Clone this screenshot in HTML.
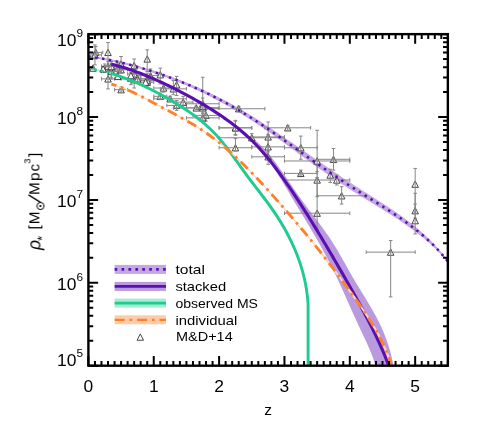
<!DOCTYPE html>
<html><head><meta charset="utf-8"><title>chart</title>
<style>html,body{margin:0;padding:0;background:#fff;overflow:hidden}svg{display:block;}</style>
</head><body>
<svg width="491" height="436" viewBox="0 0 491 436">
<rect width="491" height="436" fill="#ffffff"/>
<defs><clipPath id="ax"><rect x="88.4" y="34.15" width="359.45" height="331.55"/></clipPath></defs>
<g clip-path="url(#ax)">
<path d="M88.47 55.48 L91.11 55.81 L93.74 56.18 L96.36 56.57 L98.98 56.98 L101.59 57.42 L104.2 57.88 L106.8 58.36 L109.39 58.86 L111.98 59.39 L114.57 59.94 L117.14 60.51 L119.72 61.1 L122.28 61.7 L124.85 62.33 L127.41 62.97 L129.96 63.64 L132.51 64.32 L135.05 65.01 L137.59 65.73 L140.13 66.46 L142.66 67.2 L145.19 67.96 L147.72 68.73 L150.24 69.51 L152.75 70.31 L155.27 71.12 L157.78 71.94 L160.28 72.78 L162.78 73.63 L165.28 74.5 L167.77 75.38 L170.25 76.27 L172.73 77.18 L175.21 78.1 L177.68 79.03 L180.14 79.98 L182.6 80.95 L185.05 81.93 L187.49 82.92 L189.93 83.93 L192.36 84.95 L194.78 85.99 L197.2 87.04 L199.61 88.11 L202.01 89.19 L204.4 90.29 L206.79 91.4 L209.17 92.53 L211.54 93.67 L213.9 94.83 L216.26 96 L218.6 97.19 L220.94 98.39 L223.27 99.61 L225.6 100.83 L227.91 102.08 L230.22 103.33 L232.53 104.6 L234.82 105.89 L237.1 107.18 L239.38 108.49 L241.65 109.82 L243.92 111.15 L246.17 112.5 L248.42 113.86 L250.66 115.23 L252.9 116.62 L255.12 118.02 L257.34 119.42 L259.55 120.84 L261.76 122.27 L263.96 123.71 L266.15 125.15 L268.33 126.6 L270.52 128.06 L272.69 129.52 L274.87 130.99 L277.04 132.46 L279.2 133.94 L281.36 135.42 L283.52 136.91 L285.68 138.39 L287.83 139.89 L289.99 141.38 L292.14 142.87 L294.29 144.37 L296.44 145.87 L298.6 147.37 L300.75 148.87 L302.9 150.37 L305.05 151.87 L307.21 153.37 L309.37 154.86 L311.53 156.36 L313.69 157.86 L315.85 159.35 L318.02 160.85 L320.19 162.34 L322.36 163.83 L324.53 165.33 L326.71 166.82 L328.89 168.31 L331.07 169.8 L333.26 171.29 L335.45 172.77 L337.64 174.25 L339.84 175.73 L342.04 177.2 L344.25 178.67 L346.46 180.13 L348.67 181.59 L350.89 183.04 L353.12 184.49 L355.35 185.93 L357.58 187.36 L359.82 188.8 L362.06 190.22 L364.3 191.65 L366.55 193.07 L368.8 194.49 L371.04 195.92 L373.29 197.34 L375.53 198.77 L377.77 200.2 L380.01 201.63 L382.25 203.07 L384.48 204.52 L386.71 205.97 L388.93 207.44 L391.14 208.91 L393.35 210.4 L395.55 211.91 L397.74 213.43 L399.92 214.96 L402.09 216.52 L404.25 218.09 L406.39 219.68 L408.53 221.29 L410.65 222.92 L412.75 224.57 L414.84 226.25 L416.91 227.95 L418.96 229.68 L420.99 231.44 L423.01 233.23 L425 235.06 L426.97 236.91 L428.91 238.8 L430.83 240.71 L432.73 242.65 L434.59 244.62 L436.43 246.62 L438.24 248.66 L440.02 250.73 L441.77 252.83 L443.48 254.97 L445.16 257.14 L446.81 259.35 L448.42 261.59 L448.42 263.2 L446.81 261.19 L445.16 259.23 L443.48 257.29 L441.77 255.38 L440.02 253.51 L438.24 251.66 L436.43 249.84 L434.59 248.05 L432.73 246.28 L430.83 244.53 L428.91 242.82 L426.97 241.13 L425 239.46 L423.01 237.81 L420.99 236.18 L418.96 234.56 L416.91 232.96 L414.84 231.37 L412.75 229.8 L410.65 228.25 L408.53 226.71 L406.39 225.19 L404.25 223.69 L402.09 222.21 L399.92 220.73 L397.74 219.28 L395.55 217.83 L393.35 216.39 L391.14 214.96 L388.93 213.54 L386.71 212.13 L384.48 210.73 L382.25 209.33 L380.01 207.94 L377.77 206.55 L375.53 205.17 L373.29 203.79 L371.04 202.41 L368.8 201.04 L366.55 199.66 L364.3 198.28 L362.06 196.89 L359.82 195.51 L357.58 194.11 L355.35 192.71 L353.12 191.31 L350.89 189.89 L348.67 188.47 L346.46 187.03 L344.25 185.59 L342.04 184.15 L339.84 182.69 L337.64 181.23 L335.45 179.76 L333.26 178.28 L331.07 176.8 L328.89 175.31 L326.71 173.81 L324.53 172.3 L322.36 170.78 L320.19 169.25 L318.02 167.72 L315.85 166.18 L313.69 164.63 L311.53 163.08 L309.37 161.52 L307.21 159.95 L305.05 158.38 L302.9 156.81 L300.75 155.23 L298.6 153.65 L296.44 152.07 L294.29 150.48 L292.14 148.9 L289.99 147.31 L287.83 145.73 L285.68 144.15 L283.52 142.57 L281.36 140.99 L279.2 139.42 L277.04 137.86 L274.87 136.3 L272.69 134.75 L270.52 133.2 L268.33 131.67 L266.15 130.14 L263.96 128.63 L261.76 127.12 L259.55 125.63 L257.34 124.15 L255.12 122.68 L252.9 121.23 L250.66 119.78 L248.42 118.35 L246.17 116.92 L243.92 115.51 L241.65 114.12 L239.38 112.73 L237.1 111.36 L234.82 110.01 L232.53 108.66 L230.22 107.33 L227.91 106.02 L225.6 104.71 L223.27 103.43 L220.94 102.15 L218.6 100.89 L216.26 99.65 L213.9 98.42 L211.54 97.21 L209.17 96.01 L206.79 94.83 L204.4 93.67 L202.01 92.52 L199.61 91.38 L197.2 90.27 L194.78 89.17 L192.36 88.08 L189.93 87.02 L187.49 85.96 L185.05 84.93 L182.6 83.91 L180.14 82.9 L177.68 81.91 L175.21 80.94 L172.73 79.98 L170.25 79.04 L167.77 78.11 L165.28 77.2 L162.78 76.3 L160.28 75.41 L157.78 74.54 L155.27 73.69 L152.75 72.85 L150.24 72.02 L147.72 71.21 L145.19 70.41 L142.66 69.63 L140.13 68.86 L137.59 68.1 L135.05 67.37 L132.51 66.65 L129.96 65.94 L127.41 65.26 L124.85 64.59 L122.28 63.94 L119.72 63.31 L117.14 62.7 L114.57 62.11 L111.98 61.54 L109.39 60.99 L106.8 60.47 L104.2 59.97 L101.59 59.49 L98.98 59.04 L96.36 58.61 L93.74 58.21 L91.11 57.83 L88.47 57.48Z" fill="#5a0fb0" fill-opacity="0.36"/>
<path d="M240 131 L243.42 132.55 L246.69 134.3 L249.81 136.23 L252.8 138.32 L255.65 140.56 L258.39 142.93 L261.02 145.42 L263.56 148.02 L266 150.71 L268.37 153.48 L270.67 156.31 L272.91 159.18 L275.11 162.09 L277.26 165.02 L279.39 167.96 L281.49 170.91 L283.56 173.87 L285.62 176.84 L287.66 179.81 L289.7 182.79 L291.74 185.76 L293.77 188.72 L295.82 191.69 L297.88 194.64 L299.95 197.58 L302.05 200.51 L304.17 203.42 L306.32 206.32 L308.49 209.21 L310.67 212.09 L312.86 214.97 L315.05 217.85 L317.24 220.73 L319.41 223.62 L321.57 226.53 L323.7 229.45 L325.8 232.38 L327.87 235.34 L329.9 238.33 L331.88 241.34 L333.81 244.39 L335.7 247.46 L337.55 250.55 L339.38 253.67 L341.18 256.8 L342.97 259.94 L344.74 263.08 L346.51 266.23 L348.28 269.39 L350.05 272.53 L351.84 275.68 L353.65 278.81 L355.48 281.92 L357.34 285.02 L359.21 288.11 L361.1 291.19 L363 294.27 L364.89 297.35 L366.77 300.43 L368.64 303.52 L370.48 306.63 L372.3 309.75 L374.08 312.89 L375.81 316.05 L377.5 319.24 L379.12 322.47 L380.68 325.73 L382.18 329.02 L383.61 332.35 L384.96 335.7 L386.25 339.09 L387.45 342.5 L388.58 345.94 L389.63 349.4 L390.6 352.88 L391.49 356.38 L392.28 359.9 L392.99 363.44 L393.61 366.99 L376 367 L374.98 363.67 L373.88 360.37 L372.69 357.11 L371.44 353.87 L370.13 350.65 L368.77 347.46 L367.36 344.28 L365.93 341.12 L364.46 337.96 L362.98 334.82 L361.49 331.67 L360 328.53 L358.52 325.39 L357.06 322.24 L355.61 319.08 L354.18 315.92 L352.75 312.75 L351.34 309.58 L349.93 306.41 L348.52 303.24 L347.11 300.07 L345.7 296.9 L344.29 293.74 L342.86 290.57 L341.43 287.41 L339.98 284.26 L338.52 281.11 L337.03 277.97 L335.54 274.84 L334.02 271.72 L332.49 268.6 L330.93 265.49 L329.36 262.39 L327.78 259.3 L326.17 256.22 L324.54 253.16 L322.9 250.1 L321.23 247.05 L319.55 244.01 L317.85 240.99 L316.12 237.97 L314.38 234.97 L312.63 231.97 L310.86 228.98 L309.08 226 L307.3 223.02 L305.5 220.05 L303.71 217.07 L301.91 214.1 L300.1 211.13 L298.3 208.16 L296.5 205.19 L294.71 202.21 L292.93 199.22 L291.14 196.24 L289.36 193.25 L287.58 190.26 L285.79 187.28 L284 184.3 L282.2 181.33 L280.39 178.36 L278.57 175.4 L276.73 172.45 L274.88 169.52 L273.01 166.59 L271.12 163.69 L269.2 160.8 L267.24 157.94 L265.24 155.12 L263.18 152.34 L261.04 149.62 L258.83 146.96 L256.51 144.38 L254.09 141.89 L251.56 139.49 L248.89 137.19 L246.09 135 L243.12 132.93 L240 131Z" fill="#5a0fb0" fill-opacity="0.42"/>
<path d="M92.97 64.93L96.22 71.28L89.72 71.28Z" fill="#ffffff" stroke="#333333" stroke-width="0.9" stroke-linejoin="miter"/>
<path d="M92.97 67.31V68.96M91.17 67.31H94.77M91.17 68.96H94.77" fill="none" stroke="#868686" stroke-width="1"/>
<path d="M95.75 49.19L99 55.54L92.5 55.54Z" fill="#ffffff" stroke="#333333" stroke-width="0.9" stroke-linejoin="miter"/>
<path d="M88.73 52.39H102.78M88.73 50.59V54.19M102.78 50.59V54.19M95.75 46.58V59.02M93.95 46.58H97.55M93.95 59.02H97.55" fill="none" stroke="#868686" stroke-width="1"/>
<path d="M104.74 64.93L107.99 71.28L101.49 71.28ZM111.27 67.42L114.52 73.77L108.02 73.77ZM117.81 64.93L121.06 71.28L114.56 71.28ZM135.78 72.39L139.03 78.74L132.53 78.74ZM147.22 75.71L150.47 82.06L143.97 82.06Z" fill="#ffffff" stroke="#333333" stroke-width="0.9" stroke-linejoin="miter"/>
<path d="M101.47 68.13H108.01M101.47 66.33V69.93M108.01 66.33V69.93M104.74 63.99V72.28M102.94 63.99H106.54M102.94 72.28H106.54M108.01 70.62H114.54M108.01 68.82V72.42M114.54 68.82V72.42M111.27 63.16V77.25M109.47 63.16H113.07M109.47 77.25H113.07M114.54 68.13H121.08M114.54 66.33V69.93M121.08 66.33V69.93M117.81 63.16V73.11M116.01 63.16H119.61M116.01 73.11H119.61M130.88 75.59H140.68M130.88 73.79V77.39M140.68 73.79V77.39M135.78 68.96V82.22M133.98 68.96H137.58M133.98 82.22H137.58M140.68 78.91H153.75M140.68 77.11V80.71M153.75 77.11V80.71M147.22 73.11V84.71M145.42 73.11H149.02M145.42 84.71H149.02" fill="none" stroke="#868686" stroke-width="1"/>
<path d="M108.01 75.71L111.26 82.06L104.76 82.06ZM121.08 86.48L124.33 92.83L117.83 92.83ZM134.15 76.54L137.4 82.89L130.9 82.89ZM147.22 79.02L150.47 85.37L143.97 85.37ZM160.29 93.12L163.54 99.47L157.04 99.47ZM176.63 102.23L179.88 108.58L173.38 108.58ZM202.77 100.58L206.02 106.93L199.52 106.93Z" fill="#ffffff" stroke="#333333" stroke-width="0.9" stroke-linejoin="miter"/>
<path d="M101.47 78.91H114.54M101.47 77.11V80.71M114.54 77.11V80.71M108.01 71.45V88.86M106.21 71.45H109.81M106.21 88.86H109.81M114.54 89.68H127.61M114.54 87.88V91.48M127.61 87.88V91.48M121.08 87.2V92.17M119.28 87.2H122.88M119.28 92.17H122.88M127.61 79.74H140.68M127.61 77.94V81.54M140.68 77.94V81.54M134.15 73.11V88.03M132.35 73.11H135.95M132.35 88.03H135.95M140.68 82.22H153.75M140.68 80.42V84.02M153.75 80.42V84.02M147.22 78.08V87.2M145.42 78.08H149.02M145.42 87.2H149.02M153.75 96.32H166.83M153.75 94.52V98.12M166.83 94.52V98.12M160.29 93V99.63M158.49 93H162.09M158.49 99.63H162.09M166.83 105.43H186.43M166.83 103.63V107.23M186.43 103.63V107.23M176.63 100.46V110.41M174.83 100.46H178.43M174.83 110.41H178.43M186.43 103.78H219.11M186.43 101.98V105.58M219.11 101.98V105.58M202.77 77.25V106.26M200.97 77.25H204.57M200.97 106.26H204.57" fill="none" stroke="#868686" stroke-width="1"/>
<path d="M94.94 51.67L98.19 58.02L91.69 58.02ZM108.01 63.28L111.26 69.63L104.76 69.63ZM121.08 66.59L124.33 72.94L117.83 72.94ZM134.15 70.74L137.4 77.09L130.9 77.09ZM147.22 77.37L150.47 83.72L143.97 83.72ZM163.56 84.83L166.81 91.18L160.31 91.18ZM183.16 98.92L186.41 105.27L179.91 105.27ZM206.04 112.18L209.29 118.53L202.79 118.53ZM235.45 124.61L238.7 130.96L232.2 130.96ZM268.12 133.73L271.38 140.08L264.88 140.08ZM300.8 144.51L304.05 150.86L297.55 150.86ZM333.48 156.11L336.73 162.46L330.23 162.46Z" fill="#ffffff" stroke="#333333" stroke-width="0.9" stroke-linejoin="miter"/>
<path d="M88.4 54.87H101.47M88.4 53.07V56.67M101.47 53.07V56.67M94.94 44.93V64.82M93.14 44.93H96.74M93.14 64.82H96.74M101.47 66.48H114.54M101.47 64.68V68.28M114.54 64.68V68.28M108.01 61.5V71.45M106.21 61.5H109.81M106.21 71.45H109.81M114.54 69.79H127.61M114.54 67.99V71.59M127.61 67.99V71.59M121.08 66.48V73.11M119.28 66.48H122.88M119.28 73.11H122.88M127.61 73.94H140.68M127.61 72.14V75.74M140.68 72.14V75.74M134.15 69.79V78.08M132.35 69.79H135.95M132.35 78.08H135.95M140.68 80.57H153.75M140.68 78.77V82.37M153.75 78.77V82.37M147.22 76.42V84.71M145.42 76.42H149.02M145.42 84.71H149.02M153.75 88.03H173.36M153.75 86.23V89.83M173.36 86.23V89.83M163.56 83.88V92.17M161.76 83.88H165.36M161.76 92.17H165.36M173.36 102.12H192.97M173.36 100.32V103.92M192.97 100.32V103.92M183.16 96.32V107.92M181.36 96.32H184.96M181.36 107.92H184.96M192.97 115.38H219.11M192.97 113.58V117.18M219.11 113.58V117.18M206.04 109.58V121.18M204.24 109.58H207.84M204.24 121.18H207.84M219.11 127.81H251.79M219.11 126.01V129.61M251.79 126.01V129.61M235.45 120.35V135.27M233.65 120.35H237.25M233.65 135.27H237.25M251.79 136.93H284.46M251.79 135.13V138.73M284.46 135.13V138.73M268.12 122.01V151.85M266.32 122.01H269.93M266.32 151.85H269.93M284.46 147.71H317.14M284.46 145.91V149.51M317.14 145.91V149.51M300.8 136.1V159.31M299 136.1H302.6M299 159.31H302.6M317.14 159.31H349.82M317.14 157.51V161.11M349.82 157.51V161.11M333.48 148.53V170.09M331.68 148.53H335.28M331.68 170.09H335.28" fill="none" stroke="#868686" stroke-width="1"/>
<path d="M111.27 68.25L114.52 74.6L108.02 74.6ZM130.88 74.88L134.13 81.23L127.63 81.23ZM150.49 72.39L153.74 78.74L147.24 78.74ZM173.36 85.66L176.61 92.01L170.11 92.01ZM202.77 104.72L206.02 111.07L199.52 111.07ZM235.45 124.61L238.7 130.96L232.2 130.96ZM268.12 143.68L271.38 150.03L264.88 150.03ZM317.14 176.83L320.39 183.18L313.89 183.18Z" fill="#ffffff" stroke="#333333" stroke-width="0.9" stroke-linejoin="miter"/>
<path d="M101.47 71.45H121.08M101.47 69.65V73.25M121.08 69.65V73.25M111.27 64.82V78.91M109.47 64.82H113.07M109.47 78.91H113.07M121.08 78.08H140.68M121.08 76.28V79.88M140.68 76.28V79.88M130.88 72.28V84.71M129.08 72.28H132.68M129.08 84.71H132.68M140.68 75.59H160.29M140.68 73.79V77.39M160.29 73.79V77.39M150.49 68.96V82.22M148.69 68.96H152.29M148.69 82.22H152.29M160.29 88.86H186.43M160.29 87.06V90.66M186.43 87.06V90.66M173.36 80.57V94.66M171.56 80.57H175.16M171.56 94.66H175.16M186.43 107.92H219.11M186.43 106.12V109.72M219.11 106.12V109.72M202.77 103.78V112.89M200.97 103.78H204.57M200.97 112.89H204.57M219.11 127.81H251.79M219.11 126.01V129.61M251.79 126.01V129.61M235.45 121.18V134.44M233.65 121.18H237.25M233.65 134.44H237.25M251.79 146.88H284.46M251.79 145.08V148.68M284.46 145.08V148.68M268.12 134.44V158.48M266.32 134.44H269.93M266.32 158.48H269.93M284.46 180.03H349.82M284.46 178.23V181.83M349.82 178.23V181.83M317.14 165.11V196.61M315.34 165.11H318.94M315.34 196.61H318.94" fill="none" stroke="#868686" stroke-width="1"/>
<path d="M111.27 63.28L114.52 69.63L108.02 69.63ZM137.42 75.71L140.67 82.06L134.17 82.06ZM170.09 95.6L173.34 101.95L166.84 101.95ZM202.77 114.67L206.02 121.02L199.52 121.02ZM235.45 144.51L238.7 150.86L232.2 150.86ZM268.12 153.62L271.38 159.97L264.88 159.97ZM317.14 209.99L320.39 216.34L313.89 216.34Z" fill="#ffffff" stroke="#333333" stroke-width="0.9" stroke-linejoin="miter"/>
<path d="M101.47 66.48H121.08M101.47 64.68V68.28M121.08 64.68V68.28M111.27 61.5V71.45M109.47 61.5H113.07M109.47 71.45H113.07M121.08 78.91H153.75M121.08 77.11V80.71M153.75 77.11V80.71M137.42 76.42V81.4M135.62 76.42H139.22M135.62 81.4H139.22M153.75 98.8H186.43M153.75 97V100.6M186.43 97V100.6M170.09 96.32V101.29M168.29 96.32H171.89M168.29 101.29H171.89M186.43 117.87H219.11M186.43 116.07V119.67M219.11 116.07V119.67M202.77 113.72V120.35M200.97 113.72H204.57M200.97 120.35H204.57M219.11 147.71H251.79M219.11 145.91V149.51M251.79 145.91V149.51M235.45 138.59V151.02M233.65 138.59H237.25M233.65 151.02H237.25M251.79 156.82H284.46M251.79 155.02V158.62M284.46 155.02V158.62M268.12 146.05V164.28M266.32 146.05H269.93M266.32 164.28H269.93M284.46 213.19H349.82M284.46 211.39V214.99M349.82 211.39V214.99M317.14 177.55V229.76M315.34 177.55H318.94M315.34 229.76H318.94" fill="none" stroke="#868686" stroke-width="1"/>
<path d="M108.01 49.19L111.26 55.54L104.76 55.54ZM121.08 60.79L124.33 67.14L117.83 67.14ZM134.15 62.45L137.4 68.8L130.9 68.8ZM147.22 55.82L150.47 62.17L143.97 62.17ZM160.29 71.56L163.54 77.91L157.04 77.91ZM176.63 81.51L179.88 87.86L173.38 87.86ZM202.77 103.06L206.02 109.41L199.52 109.41Z" fill="#ffffff" stroke="#333333" stroke-width="0.9" stroke-linejoin="miter"/>
<path d="M108.01 42.44V65.65M106.21 42.44H109.81M106.21 65.65H109.81M121.08 56.53V73.11M119.28 56.53H122.88M119.28 73.11H122.88M134.15 59.02V73.94M132.35 59.02H135.95M132.35 73.94H135.95M147.22 49.9V71.45M145.42 49.9H149.02M145.42 71.45H149.02M160.29 68.13V83.88M158.49 68.13H162.09M158.49 83.88H162.09M176.63 76.42V95.49M174.83 76.42H178.43M174.83 95.49H178.43M202.77 97.97V117.04M200.97 97.97H204.57M200.97 117.04H204.57" fill="none" stroke="#868686" stroke-width="1"/>
<path d="M103.1 65.76L106.35 72.11L99.85 72.11ZM117.81 73.22L121.06 79.57L114.56 79.57ZM130.88 72.39L134.13 78.74L127.63 78.74ZM145.59 79.02L148.84 85.37L142.34 85.37Z" fill="#ffffff" stroke="#333333" stroke-width="0.9" stroke-linejoin="miter"/>
<path d="" fill="none" stroke="#868686" stroke-width="1"/>
<path d="M196.24 104.72L199.49 111.07L192.99 111.07ZM251.79 134.56L255.04 140.91L248.54 140.91ZM317.14 157.77L320.39 164.12L313.89 164.12Z" fill="#ffffff" stroke="#333333" stroke-width="0.9" stroke-linejoin="miter"/>
<path d="M173.36 107.92H219.11M173.36 106.12V109.72M219.11 106.12V109.72M196.24 106.26V109.58M194.44 106.26H198.04M194.44 109.58H198.04M219.11 137.76H284.46M219.11 135.96V139.56M284.46 135.96V139.56M251.79 133.62V141.07M249.99 133.62H253.59M249.99 141.07H253.59M284.46 160.97H349.82M284.46 159.17V162.77M349.82 159.17V162.77M317.14 130.3V171.74M315.34 130.3H318.94M315.34 171.74H318.94" fill="none" stroke="#868686" stroke-width="1"/>
<path d="M238.72 105.55L241.97 111.9L235.47 111.9ZM287.73 124.61L290.98 130.96L284.48 130.96Z" fill="#ffffff" stroke="#333333" stroke-width="0.9" stroke-linejoin="miter"/>
<path d="M212.57 108.75H264.86M212.57 106.95V110.55M264.86 106.95V110.55M238.72 106.26V111.24M236.92 106.26H240.52M236.92 111.24H240.52M264.86 127.81H310.61M264.86 126.01V129.61M310.61 126.01V129.61M287.73 125.33V130.3M285.93 125.33H289.53M285.93 130.3H289.53" fill="none" stroke="#868686" stroke-width="1"/>
<path d="M300.8 170.2L304.05 176.55L297.55 176.55ZM341.65 192.58L344.9 198.93L338.4 198.93ZM390.66 248.94L393.91 255.29L387.41 255.29Z" fill="#ffffff" stroke="#333333" stroke-width="0.9" stroke-linejoin="miter"/>
<path d="M284.46 173.4H317.14M284.46 171.6V175.2M317.14 171.6V175.2M300.8 170.09V175.06M299 170.09H302.6M299 175.06H302.6M317.14 195.78H366.16M317.14 193.98V197.58M366.16 193.98V197.58M341.65 186.66V204.07M339.85 186.66H343.45M339.85 204.07H343.45M366.16 252.14H415.17M366.16 250.34V253.94M415.17 250.34V253.94M390.66 240.54V296.9M388.86 240.54H392.46M388.86 296.9H392.46" fill="none" stroke="#868686" stroke-width="1"/>
<path d="M336.75 176.83L340 183.18L333.5 183.18ZM415.17 207.5L418.42 213.85L411.92 213.85Z" fill="#ffffff" stroke="#333333" stroke-width="0.9" stroke-linejoin="miter"/>
<path d="M336.75 175.06V185.01M334.95 175.06H338.55M334.95 185.01H338.55M415.17 204.07V218.16M413.37 204.07H416.97M413.37 218.16H416.97" fill="none" stroke="#868686" stroke-width="1"/>
<path d="M330.21 171.86L333.46 178.21L326.96 178.21ZM415.17 217.45L418.42 223.8L411.92 223.8Z" fill="#ffffff" stroke="#333333" stroke-width="0.9" stroke-linejoin="miter"/>
<path d="M330.21 169.26V182.52M328.41 169.26H332.01M328.41 182.52H332.01M415.17 193.29V233.91M413.37 193.29H416.97M413.37 233.91H416.97" fill="none" stroke="#868686" stroke-width="1"/>
<path d="M415.17 180.98L418.42 187.33L411.92 187.33Z" fill="#ffffff" stroke="#333333" stroke-width="0.9" stroke-linejoin="miter"/>
<path d="M415.17 168.43V213.19M413.37 168.43H416.97M413.37 213.19H416.97" fill="none" stroke="#868686" stroke-width="1"/>
<path d="M87.37 67.95 L89.54 68.2 L91.69 68.48 L93.84 68.8 L95.97 69.16 L98.09 69.55 L100.21 69.98 L102.31 70.44 L104.4 70.93 L106.49 71.45 L108.56 72 L110.63 72.57 L112.69 73.18 L114.74 73.81 L116.78 74.46 L118.81 75.14 L120.84 75.84 L122.86 76.57 L124.88 77.31 L126.88 78.07 L128.88 78.86 L130.88 79.65 L132.87 80.47 L134.85 81.3 L136.83 82.14 L138.81 83 L140.78 83.87 L142.74 84.76 L144.7 85.66 L146.65 86.57 L148.59 87.5 L150.53 88.44 L152.46 89.39 L154.39 90.36 L156.31 91.34 L158.22 92.34 L160.13 93.34 L162.03 94.36 L163.92 95.4 L165.8 96.44 L167.68 97.5 L169.55 98.58 L171.41 99.66 L173.26 100.76 L175.11 101.87 L176.94 102.99 L178.77 104.12 L180.59 105.27 L182.4 106.43 L184.2 107.61 L185.99 108.8 L187.77 110 L189.54 111.22 L191.29 112.45 L193.03 113.7 L194.75 114.97 L196.46 116.26 L198.15 117.56 L199.83 118.88 L201.49 120.21 L203.13 121.55 L204.76 122.91 L206.36 124.29 L207.94 125.7 L209.51 127.12 L211.05 128.57 L212.57 130.04 L214.07 131.54 L215.54 133.06 L216.99 134.61 L218.42 136.18 L219.82 137.77 L221.21 139.38 L222.57 141.02 L223.92 142.67 L225.26 144.33 L226.57 146.01 L227.88 147.71 L229.17 149.41 L230.46 151.13 L231.73 152.85 L233 154.59 L234.26 156.32 L235.51 158.06 L236.77 159.81 L238.02 161.55 L239.27 163.29 L240.52 165.04 L241.77 166.77 L243.03 168.51 L244.29 170.23 L245.56 171.95 L246.84 173.66 L248.12 175.36 L249.41 177.05 L250.71 178.74 L252.01 180.41 L253.31 182.08 L254.61 183.74 L255.92 185.4 L257.22 187.07 L258.52 188.73 L259.82 190.39 L261.12 192.05 L262.42 193.72 L263.71 195.39 L264.99 197.06 L266.27 198.74 L267.54 200.43 L268.8 202.12 L270.06 203.83 L271.3 205.54 L272.53 207.27 L273.75 209 L274.95 210.75 L276.14 212.51 L277.32 214.29 L278.48 216.08 L279.63 217.88 L280.76 219.69 L281.87 221.51 L282.97 223.35 L284.05 225.2 L285.11 227.06 L286.15 228.95 L287.18 230.86 L288.19 232.77 L289.17 234.69 L290.14 236.63 L291.08 238.57 L292.01 240.52 L292.91 242.48 L293.79 244.44 L294.65 246.42 L295.49 248.4 L296.3 250.39 L297.09 252.39 L297.85 254.4 L298.59 256.41 L299.3 258.43 L299.99 260.45 L300.66 262.7 L301.3 264.95 L301.91 267.2 L302.49 269.44 L303.05 271.69 L303.59 273.93 L304.09 276.18 L304.57 278.42 L305.02 280.66 L305.45 282.9 L305.84 285.14 L306.21 287.38 L306.55 289.62 L306.86 291.86 L307.15 294.1 L307.4 296.34 L307.62 298.58 L307.82 300.81 L307.98 303.05 L307.98 303.06 L307.82 300.93 L307.62 298.82 L307.4 296.73 L307.15 294.66 L306.86 292.6 L306.55 290.56 L306.21 288.55 L305.84 286.54 L305.45 284.56 L305.02 282.6 L304.57 280.65 L304.09 278.72 L303.59 276.8 L303.05 274.9 L302.49 273.02 L301.91 271.16 L301.3 269.31 L300.66 267.47 L299.99 265.65 L299.3 263.63 L298.59 261.61 L297.85 259.6 L297.09 257.59 L296.3 255.59 L295.49 253.6 L294.65 251.62 L293.79 249.64 L292.91 247.68 L292.01 245.72 L291.08 243.77 L290.14 241.83 L289.17 239.89 L288.19 237.97 L287.18 236.06 L286.15 234.15 L285.11 232.26 L284.05 230.35 L282.97 228.46 L281.87 226.57 L280.76 224.69 L279.63 222.83 L278.48 220.98 L277.32 219.14 L276.14 217.31 L274.95 215.49 L273.75 213.69 L272.53 211.9 L271.3 210.11 L270.06 208.34 L268.8 206.58 L267.54 204.83 L266.27 203.09 L264.99 201.35 L263.71 199.61 L262.42 197.89 L261.12 196.16 L259.82 194.44 L258.52 192.72 L257.22 191 L255.92 189.28 L254.61 187.55 L253.31 185.83 L252.01 184.1 L250.71 182.37 L249.41 180.64 L248.12 178.9 L246.84 177.16 L245.56 175.41 L244.29 173.65 L243.03 171.88 L241.77 170.11 L240.52 168.33 L239.27 166.55 L238.02 164.77 L236.77 162.98 L235.51 161.2 L234.26 159.42 L233 157.64 L231.73 155.87 L230.46 154.1 L229.17 152.35 L227.88 150.6 L226.57 148.86 L225.26 147.14 L223.92 145.43 L222.57 143.74 L221.21 142.06 L219.82 140.41 L218.42 138.77 L216.99 137.15 L215.54 135.56 L214.07 133.99 L212.57 132.45 L211.05 130.93 L209.51 129.43 L207.94 127.95 L206.36 126.49 L204.76 125.06 L203.13 123.65 L201.49 122.25 L199.83 120.88 L198.15 119.55 L196.46 118.23 L194.75 116.93 L193.03 115.65 L191.29 114.39 L189.54 113.14 L187.77 111.91 L185.99 110.7 L184.2 109.49 L182.4 108.31 L180.59 107.13 L178.77 105.97 L176.94 104.83 L175.11 103.69 L173.26 102.57 L171.41 101.46 L169.55 100.36 L167.68 99.27 L165.8 98.2 L163.92 97.14 L162.03 96.09 L160.13 95.06 L158.22 94.04 L156.31 93.03 L154.39 92.04 L152.46 91.05 L150.53 90.09 L148.59 89.13 L146.65 88.19 L144.7 87.26 L142.74 86.35 L140.78 85.45 L138.81 84.56 L136.83 83.69 L134.85 82.83 L132.87 81.99 L130.88 81.16 L128.88 80.35 L126.88 79.55 L124.88 78.77 L122.86 78.02 L120.84 77.28 L118.81 76.56 L116.78 75.87 L114.74 75.2 L112.69 74.55 L110.63 73.93 L108.56 73.34 L106.49 72.78 L104.4 72.24 L102.31 71.74 L100.21 71.27 L98.09 70.83 L95.97 70.42 L93.84 70.05 L91.69 69.71 L89.54 69.41 L87.37 69.15Z" fill="#1fcb8f" fill-opacity="0.45"/>
<path d="M87.37 68.55 L89.54 68.8 L91.69 69.1 L93.84 69.43 L95.97 69.79 L98.09 70.19 L100.21 70.62 L102.31 71.09 L104.4 71.59 L106.49 72.11 L108.56 72.67" fill="none" stroke="#1fcb8f" stroke-width="2.6" stroke-dasharray="2.6 4.3"/>
<path d="M110.63 73.25 L112.69 73.87 L114.74 74.5 L116.78 75.17 L118.81 75.85 L120.84 76.56 L122.86 77.29 L124.88 78.04 L126.88 78.81 L128.88 79.6 L130.88 80.41 L132.87 81.23 L134.85 82.07 L136.83 82.92 L138.81 83.78 L140.78 84.66 L142.74 85.55 L144.7 86.46 L146.65 87.38 L148.59 88.31 L150.53 89.26 L152.46 90.22 L154.39 91.2 L156.31 92.19 L158.22 93.19 L160.13 94.2 L162.03 95.23 L163.92 96.27 L165.8 97.32 L167.68 98.39 L169.55 99.47 L171.41 100.56 L173.26 101.66 L175.11 102.78 L176.94 103.91 L178.77 105.05 L180.59 106.2 L182.4 107.37 L184.2 108.55 L185.99 109.75 L187.77 110.95 L189.54 112.18 L191.29 113.42 L193.03 114.68 L194.75 115.95 L196.46 117.24 L198.15 118.55 L199.83 119.88 L201.49 121.23 L203.13 122.6 L204.76 123.98 L206.36 125.39 L207.94 126.82 L209.51 128.27 L211.05 129.75 L212.57 131.25 L214.07 132.77 L215.54 134.31 L216.99 135.88 L218.42 137.47 L219.82 139.09 L221.21 140.72 L222.57 142.38 L223.92 144.05 L225.26 145.74 L226.57 147.44 L227.88 149.15 L229.17 150.88 L230.46 152.62 L231.73 154.36 L233 156.11 L234.26 157.87 L235.51 159.63 L236.77 161.39 L238.02 163.16 L239.27 164.92 L240.52 166.68 L241.77 168.44 L243.03 170.2 L244.29 171.94 L245.56 173.68 L246.84 175.41 L248.12 177.13 L249.41 178.84 L250.71 180.55 L252.01 182.25 L253.31 183.95 L254.61 185.65 L255.92 187.34 L257.22 189.03 L258.52 190.72 L259.82 192.41 L261.12 194.11 L262.42 195.8 L263.71 197.5 L264.99 199.2 L266.27 200.91 L267.54 202.63 L268.8 204.35 L270.06 206.09 L271.3 207.83 L272.53 209.58 L273.75 211.34 L274.95 213.12 L276.14 214.91 L277.32 216.71 L278.48 218.53 L279.63 220.35 L280.76 222.19 L281.87 224.04 L282.97 225.9 L284.05 227.77 L285.11 229.66 L286.15 231.55 L287.18 233.46 L288.19 235.37 L289.17 237.29 L290.14 239.23 L291.08 241.17 L292.01 243.12 L292.91 245.08 L293.79 247.04 L294.65 249.02 L295.49 251 L296.3 252.99 L297.09 254.99 L297.85 257 L298.59 259.01 L299.3 261.03 L299.99 263.05 L300.66 265.09 L301.3 267.13 L301.91 269.18 L302.49 271.23 L303.05 273.3 L303.59 275.37 L304.09 277.45 L304.57 279.53 L305.02 281.63 L305.45 283.73 L305.84 285.84 L306.21 287.96 L306.55 290.09 L306.86 292.23 L307.15 294.38 L307.4 296.53 L307.62 298.7 L307.82 300.87 L307.98 303.05 L308.1 303.5 L308.1 367.7" fill="none" stroke="#1fcb8f" stroke-width="2.9" stroke-linejoin="round"/>
<path d="M111.37 64.18 L113.99 64.83 L116.59 65.51 L119.19 66.23 L121.77 66.98 L124.35 67.76 L126.91 68.57 L129.46 69.41 L132.01 70.28 L134.54 71.18 L137.06 72.1 L139.58 73.05 L142.09 74.02 L144.58 75.02 L147.07 76.03 L149.55 77.07 L152.03 78.13 L154.49 79.2 L156.95 80.3 L159.39 81.41 L161.83 82.53 L164.27 83.67 L166.69 84.82 L169.11 85.98 L171.52 87.16 L173.93 88.35 L176.32 89.56 L178.71 90.78 L181.09 92.02 L183.47 93.27 L185.83 94.53 L188.19 95.81 L190.54 97.1 L192.88 98.41 L195.22 99.74 L197.55 101.07 L199.87 102.43 L202.18 103.8 L204.49 105.18 L206.78 106.58 L209.07 107.99 L211.35 109.42 L213.63 110.87 L215.89 112.33 L218.14 113.81 L220.38 115.31 L222.61 116.83 L224.82 118.37 L227.02 119.93 L229.2 121.51 L231.36 123.11 L233.5 124.74 L235.63 126.38 L237.73 128.05 L239.81 129.75 L241.87 131.47 L243.91 133.22 L245.92 134.99 L247.91 136.79 L249.87 138.62 L251.8 140.48 L253.7 142.37 L255.57 144.28 L257.42 146.22 L259.25 148.18 L261.05 150.17 L262.82 152.19 L264.57 154.22 L266.31 156.27 L268.02 158.34 L269.71 160.44 L271.38 162.54 L273.03 164.67 L274.67 166.8 L276.29 168.95 L277.9 171.12 L279.49 173.29 L281.07 175.47 L282.64 177.66 L284.2 179.86 L285.74 182.06 L287.28 184.27 L288.81 186.49 L290.32 188.71 L291.83 190.93 L293.33 193.16 L294.83 195.4 L296.31 197.64 L297.79 199.88 L299.26 202.13 L300.72 204.38 L302.17 206.64 L303.62 208.9 L305.06 211.16 L306.5 213.43 L307.93 215.7 L309.35 217.98 L310.77 220.26 L312.19 222.54 L313.59 224.83 L315 227.12 L316.4 229.41 L317.79 231.71 L319.19 234.01 L320.57 236.31 L321.96 238.61 L323.34 240.92 L324.71 243.23 L326.09 245.54 L327.46 247.85 L328.82 250.17 L330.19 252.48 L331.55 254.8 L332.9 257.12 L334.26 259.44 L335.61 261.77 L336.96 264.09 L338.31 266.42 L339.66 268.75 L341 271.08 L342.34 273.4 L343.68 275.73 L345.02 278.07 L346.35 280.4 L347.69 282.73 L349.01 285.07 L350.34 287.41 L351.66 289.75 L352.98 292.09 L354.29 294.43 L355.59 296.78 L356.89 299.13 L358.19 301.48 L359.48 303.84 L360.76 306.2 L362.03 308.57 L363.3 310.93 L364.56 313.3 L365.81 315.68 L367.06 318.06 L368.29 320.45 L369.52 322.84 L370.74 325.23 L371.94 327.63 L373.14 330.04 L374.32 332.45 L375.49 334.87 L376.64 337.3 L377.78 339.73 L378.91 342.17 L380.02 344.62 L381.12 347.07 L382.19 349.53 L383.25 352 L384.29 354.48 L385.31 356.97 L386.32 359.46 L387.3 361.97 L388.25 364.48 L389.19 367.01" fill="none" stroke="#5a0fb0" stroke-width="3.1"/>
<path d="M88.47 56.48 L91.11 56.82 L93.74 57.19 L96.36 57.59 L98.98 58.01 L101.59 58.45 L104.2 58.92 L106.8 59.41 L109.39 59.93 L111.98 60.47 L114.57 61.02 L117.14 61.6 L119.72 62.2 L122.28 62.82 L124.85 63.46 L127.41 64.11 L129.96 64.79 L132.51 65.48 L135.05 66.19 L137.59 66.92 L140.13 67.66 L142.66 68.41 L145.19 69.18 L147.72 69.97 L150.24 70.77 L152.75 71.58 L155.27 72.4 L157.78 73.24 L160.28 74.1 L162.78 74.96 L165.28 75.85 L167.77 76.74 L170.25 77.65 L172.73 78.58 L175.21 79.52 L177.68 80.47 L180.14 81.44 L182.6 82.43 L185.05 83.43 L187.49 84.44 L189.93 85.47 L192.36 86.52 L194.78 87.58 L197.2 88.65 L199.61 89.75 L202.01 90.85 L204.4 91.98 L206.79 93.12 L209.17 94.27 L211.54 95.44 L213.9 96.63 L216.26 97.83 L218.6 99.04 L220.94 100.27 L223.27 101.52 L225.6 102.77 L227.91 104.05 L230.22 105.33 L232.53 106.63 L234.82 107.95 L237.1 109.27 L239.38 110.61 L241.65 111.97 L243.92 113.33 L246.17 114.71 L248.42 116.1 L250.66 117.51 L252.9 118.92 L255.12 120.35 L257.34 121.79 L259.55 123.24 L261.76 124.7 L263.96 126.17 L266.15 127.65 L268.33 129.13 L270.52 130.63 L272.69 132.13 L274.87 133.64 L277.04 135.16 L279.2 136.68 L281.36 138.21 L283.52 139.74 L285.68 141.27 L287.83 142.81 L289.99 144.35 L292.14 145.89 L294.29 147.43 L296.44 148.97 L298.6 150.51 L300.75 152.05 L302.9 153.59 L305.05 155.13 L307.21 156.66 L309.37 158.19 L311.53 159.72 L313.69 161.24 L315.85 162.77 L318.02 164.28 L320.19 165.8 L322.36 167.31 L324.53 168.81 L326.71 170.31 L328.89 171.81 L331.07 173.3 L333.26 174.79 L335.45 176.27 L337.64 177.74 L339.84 179.21 L342.04 180.67 L344.25 182.13 L346.46 183.58 L348.67 185.03 L350.89 186.47 L353.12 187.9 L355.35 189.32 L357.58 190.74 L359.82 192.15 L362.06 193.56 L364.3 194.96 L366.55 196.36 L368.8 197.76 L371.04 199.16 L373.29 200.57 L375.53 201.97 L377.77 203.37 L380.01 204.79 L382.25 206.2 L384.48 207.62 L386.71 209.05 L388.93 210.49 L391.14 211.94 L393.35 213.4 L395.55 214.87 L397.74 216.35 L399.92 217.85 L402.09 219.36 L404.25 220.89 L406.39 222.44 L408.53 224 L410.65 225.58 L412.75 227.19 L414.84 228.81 L416.91 230.45 L418.96 232.12 L420.99 233.81 L423.01 235.52 L425 237.26 L426.97 239.02 L428.91 240.81 L430.83 242.62 L432.73 244.46 L434.59 246.33 L436.43 248.23 L438.24 250.16 L440.02 252.12 L441.77 254.11 L443.48 256.13 L445.16 258.18 L446.81 260.27 L448.42 262.39" fill="none" stroke="#5a0fb0" stroke-width="2.45" stroke-dasharray="2.45 4.5" stroke-dashoffset="0.22"/>
<path d="M111.34 84.21 L113.85 84.92 L116.33 85.69 L118.78 86.52 L121.21 87.39 L123.62 88.3 L126 89.26 L128.37 90.26 L130.72 91.29 L133.05 92.36 L135.36 93.45 L137.67 94.57 L139.96 95.71 L142.24 96.88 L144.52 98.06 L146.79 99.25 L149.05 100.45 L151.32 101.66 L153.58 102.88 L155.84 104.09 L158.11 105.3 L160.38 106.51 L162.65 107.72 L164.93 108.92 L167.2 110.12 L169.48 111.32 L171.75 112.53 L174.02 113.74 L176.29 114.95 L178.55 116.18 L180.81 117.41 L183.06 118.65 L185.3 119.91 L187.54 121.18 L189.76 122.46 L191.97 123.77 L194.17 125.09 L196.35 126.43 L198.52 127.79 L200.68 129.18 L202.81 130.59 L204.93 132.03 L207.03 133.49 L209.12 134.98 L211.19 136.49 L213.24 138.02 L215.27 139.58 L217.29 141.16 L219.3 142.76 L221.29 144.38 L223.26 146.01 L225.22 147.67 L227.17 149.34 L229.1 151.04 L231.02 152.74 L232.92 154.46 L234.82 156.2 L236.7 157.95 L238.56 159.72 L240.42 161.49 L242.27 163.28 L244.1 165.08 L245.92 166.89 L247.73 168.7 L249.54 170.53 L251.33 172.37 L253.12 174.22 L254.89 176.07 L256.66 177.93 L258.42 179.8 L260.17 181.68 L261.92 183.57 L263.66 185.46 L265.4 187.35 L267.12 189.25 L268.85 191.16 L270.57 193.07 L272.28 194.98 L273.99 196.9 L275.7 198.83 L277.4 200.75 L279.11 202.68 L280.81 204.61 L282.5 206.54 L284.19 208.48 L285.88 210.42 L287.57 212.36 L289.25 214.3 L290.93 216.25 L292.6 218.2 L294.27 220.16 L295.94 222.12 L297.6 224.08 L299.26 226.04 L300.91 228.01 L302.55 229.98 L304.2 231.96 L305.83 233.94 L307.46 235.93 L309.09 237.91 L310.71 239.91 L312.32 241.9 L313.93 243.9 L315.54 245.91 L317.13 247.92 L318.73 249.93 L320.32 251.94 L321.9 253.96" fill="none" stroke="#ffd6ba" stroke-width="1.2"/>
<path d="M318.73 249.93 L320.32 251.94 L321.9 253.96 L323.48 255.98 L325.06 258.01 L326.63 260.04 L328.19 262.07 L329.76 264.11 L331.32 266.15 L332.87 268.19 L334.43 270.24 L335.98 272.29 L337.52 274.34 L339.07 276.39 L340.61 278.45 L342.15 280.51 L343.68 282.57 L345.22 284.64 L346.74 286.7 L348.27 288.78 L349.78 290.86 L351.29 292.94 L352.8 295.02 L354.3 297.12 L355.78 299.21 L357.26 301.32 L358.73 303.43 L360.19 305.54 L361.64 307.66 L363.07 309.79 L364.5 311.93 L365.91 314.08 L367.3 316.23 L368.69 318.39 L370.05 320.56 L371.41 322.74 L372.74 324.93 L374.05 327.13 L375.35 329.34 L376.62 331.57 L377.86 333.81 L379.08 336.06 L380.26 338.33 L381.42 340.61 L382.54 342.91 L383.63 345.23 L384.68 347.57 L385.7 349.92 L386.67 352.3 L387.6 354.7 L388.48 357.12 L389.32 359.56 L390.11 362.03 L390.85 364.53 L391.53 367.04" fill="none" stroke="#ffd6ba" stroke-width="2.0"/>
<path d="M111.34 84.21 L113.85 84.92 L116.33 85.69 L118.78 86.52 L121.21 87.39 L123.62 88.3 L126 89.26 L128.37 90.26 L130.72 91.29 L133.05 92.36 L135.36 93.45 L137.67 94.57 L139.96 95.71 L142.24 96.88 L144.52 98.06 L146.79 99.25 L149.05 100.45 L151.32 101.66 L153.58 102.88 L155.84 104.09 L158.11 105.3 L160.38 106.51 L162.65 107.72 L164.93 108.92 L167.2 110.12 L169.48 111.32 L171.75 112.53 L174.02 113.74 L176.29 114.95 L178.55 116.18 L180.81 117.41 L183.06 118.65 L185.3 119.91 L187.54 121.18 L189.76 122.46 L191.97 123.77 L194.17 125.09 L196.35 126.43 L198.52 127.79 L200.68 129.18 L202.81 130.59 L204.93 132.03 L207.03 133.49 L209.12 134.98 L211.19 136.49 L213.24 138.02 L215.27 139.58 L217.29 141.16 L219.3 142.76 L221.29 144.38 L223.26 146.01 L225.22 147.67 L227.17 149.34 L229.1 151.04 L231.02 152.74 L232.92 154.46 L234.82 156.2 L236.7 157.95 L238.56 159.72 L240.42 161.49 L242.27 163.28 L244.1 165.08 L245.92 166.89 L247.73 168.7 L249.54 170.53 L251.33 172.37 L253.12 174.22 L254.89 176.07 L256.66 177.93 L258.42 179.8 L260.17 181.68 L261.92 183.57 L263.66 185.46 L265.4 187.35 L267.12 189.25 L268.85 191.16 L270.57 193.07 L272.28 194.98 L273.99 196.9 L275.7 198.83 L277.4 200.75 L279.11 202.68 L280.81 204.61 L282.5 206.54 L284.19 208.48 L285.88 210.42 L287.57 212.36 L289.25 214.3 L290.93 216.25 L292.6 218.2 L294.27 220.16 L295.94 222.12 L297.6 224.08 L299.26 226.04 L300.91 228.01 L302.55 229.98 L304.2 231.96 L305.83 233.94 L307.46 235.93 L309.09 237.91 L310.71 239.91 L312.32 241.9 L313.93 243.9 L315.54 245.91 L317.13 247.92 L318.73 249.93 L320.32 251.94 L321.9 253.96 L323.48 255.98 L325.06 258.01 L326.63 260.04 L328.19 262.07 L329.76 264.11 L331.32 266.15 L332.87 268.19 L334.43 270.24 L335.98 272.29 L337.52 274.34 L339.07 276.39 L340.61 278.45 L342.15 280.51 L343.68 282.57 L345.22 284.64 L346.74 286.7 L348.27 288.78 L349.78 290.86 L351.29 292.94 L352.8 295.02 L354.3 297.12 L355.78 299.21 L357.26 301.32 L358.73 303.43 L360.19 305.54 L361.64 307.66 L363.07 309.79 L364.5 311.93 L365.91 314.08 L367.3 316.23 L368.69 318.39 L370.05 320.56 L371.41 322.74 L372.74 324.93 L374.05 327.13 L375.35 329.34 L376.62 331.57 L377.86 333.81 L379.08 336.06 L380.26 338.33 L381.42 340.61 L382.54 342.91 L383.63 345.23 L384.68 347.57 L385.7 349.92 L386.67 352.3 L387.6 354.7 L388.48 357.12 L389.32 359.56 L390.11 362.03 L390.85 364.53 L391.53 367.04" fill="none" stroke="#ff7f2a" stroke-width="2.85" stroke-dasharray="10 4.9 2.6 4.9" stroke-dashoffset="4.8"/>
</g>
<path d="M88.4 365.7V356M88.4 34.15V43.85M94.94 365.7V360.9M94.94 34.15V38.95M101.47 365.7V360.9M101.47 34.15V38.95M108.01 365.7V360.9M108.01 34.15V38.95M114.54 365.7V360.9M114.54 34.15V38.95M121.08 365.7V360.9M121.08 34.15V38.95M127.61 365.7V360.9M127.61 34.15V38.95M134.15 365.7V360.9M134.15 34.15V38.95M140.68 365.7V360.9M140.68 34.15V38.95M147.22 365.7V360.9M147.22 34.15V38.95M153.75 365.7V356M153.75 34.15V43.85M160.29 365.7V360.9M160.29 34.15V38.95M166.83 365.7V360.9M166.83 34.15V38.95M173.36 365.7V360.9M173.36 34.15V38.95M179.9 365.7V360.9M179.9 34.15V38.95M186.43 365.7V360.9M186.43 34.15V38.95M192.97 365.7V360.9M192.97 34.15V38.95M199.5 365.7V360.9M199.5 34.15V38.95M206.04 365.7V360.9M206.04 34.15V38.95M212.57 365.7V360.9M212.57 34.15V38.95M219.11 365.7V356M219.11 34.15V43.85M225.64 365.7V360.9M225.64 34.15V38.95M232.18 365.7V360.9M232.18 34.15V38.95M238.72 365.7V360.9M238.72 34.15V38.95M245.25 365.7V360.9M245.25 34.15V38.95M251.79 365.7V360.9M251.79 34.15V38.95M258.32 365.7V360.9M258.32 34.15V38.95M264.86 365.7V360.9M264.86 34.15V38.95M271.39 365.7V360.9M271.39 34.15V38.95M277.93 365.7V360.9M277.93 34.15V38.95M284.46 365.7V356M284.46 34.15V43.85M291 365.7V360.9M291 34.15V38.95M297.53 365.7V360.9M297.53 34.15V38.95M304.07 365.7V360.9M304.07 34.15V38.95M310.61 365.7V360.9M310.61 34.15V38.95M317.14 365.7V360.9M317.14 34.15V38.95M323.68 365.7V360.9M323.68 34.15V38.95M330.21 365.7V360.9M330.21 34.15V38.95M336.75 365.7V360.9M336.75 34.15V38.95M343.28 365.7V360.9M343.28 34.15V38.95M349.82 365.7V356M349.82 34.15V43.85M356.35 365.7V360.9M356.35 34.15V38.95M362.89 365.7V360.9M362.89 34.15V38.95M369.42 365.7V360.9M369.42 34.15V38.95M375.96 365.7V360.9M375.96 34.15V38.95M382.5 365.7V360.9M382.5 34.15V38.95M389.03 365.7V360.9M389.03 34.15V38.95M395.57 365.7V360.9M395.57 34.15V38.95M402.1 365.7V360.9M402.1 34.15V38.95M408.64 365.7V360.9M408.64 34.15V38.95M415.17 365.7V356M415.17 34.15V43.85M421.71 365.7V360.9M421.71 34.15V38.95M428.24 365.7V360.9M428.24 34.15V38.95M434.78 365.7V360.9M434.78 34.15V38.95M441.31 365.7V360.9M441.31 34.15V38.95M447.85 365.7V360.9M447.85 34.15V38.95M88.4 365.7H98.1M447.85 365.7H438.15M88.4 340.75H93.2M447.85 340.75H443.05M88.4 326.15H93.2M447.85 326.15H443.05M88.4 315.8H93.2M447.85 315.8H443.05M88.4 307.76H93.2M447.85 307.76H443.05M88.4 301.2H93.2M447.85 301.2H443.05M88.4 295.65H93.2M447.85 295.65H443.05M88.4 290.85H93.2M447.85 290.85H443.05M88.4 286.61H93.2M447.85 286.61H443.05M88.4 282.81H98.1M447.85 282.81H438.15M88.4 257.86H93.2M447.85 257.86H443.05M88.4 243.27H93.2M447.85 243.27H443.05M88.4 232.91H93.2M447.85 232.91H443.05M88.4 224.88H93.2M447.85 224.88H443.05M88.4 218.31H93.2M447.85 218.31H443.05M88.4 212.76H93.2M447.85 212.76H443.05M88.4 207.96H93.2M447.85 207.96H443.05M88.4 203.72H93.2M447.85 203.72H443.05M88.4 199.92H98.1M447.85 199.92H438.15M88.4 174.97H93.2M447.85 174.97H443.05M88.4 160.38H93.2M447.85 160.38H443.05M88.4 150.02H93.2M447.85 150.02H443.05M88.4 141.99H93.2M447.85 141.99H443.05M88.4 135.43H93.2M447.85 135.43H443.05M88.4 129.88H93.2M447.85 129.88H443.05M88.4 125.07H93.2M447.85 125.07H443.05M88.4 120.83H93.2M447.85 120.83H443.05M88.4 117.04H98.1M447.85 117.04H438.15M88.4 92.09H93.2M447.85 92.09H443.05M88.4 77.49H93.2M447.85 77.49H443.05M88.4 67.13H93.2M447.85 67.13H443.05M88.4 59.1H93.2M447.85 59.1H443.05M88.4 52.54H93.2M447.85 52.54H443.05M88.4 46.99H93.2M447.85 46.99H443.05M88.4 42.18H93.2M447.85 42.18H443.05M88.4 37.94H93.2M447.85 37.94H443.05M88.4 34.15H98.1M447.85 34.15H438.15" fill="none" stroke="#000" stroke-width="2"/>
<rect x="88.4" y="34.15" width="359.45" height="331.55" fill="none" stroke="#000" stroke-width="2.4"/>
<g opacity="0.999">
<text x="83.55" y="392.2" font-family="Liberation Sans, sans-serif" font-size="15.6" textLength="9.7" lengthAdjust="spacingAndGlyphs">0</text>
<text x="148.9" y="392.2" font-family="Liberation Sans, sans-serif" font-size="15.6" textLength="9.7" lengthAdjust="spacingAndGlyphs">1</text>
<text x="214.26" y="392.2" font-family="Liberation Sans, sans-serif" font-size="15.6" textLength="9.7" lengthAdjust="spacingAndGlyphs">2</text>
<text x="279.61" y="392.2" font-family="Liberation Sans, sans-serif" font-size="15.6" textLength="9.7" lengthAdjust="spacingAndGlyphs">3</text>
<text x="344.97" y="392.2" font-family="Liberation Sans, sans-serif" font-size="15.6" textLength="9.7" lengthAdjust="spacingAndGlyphs">4</text>
<text x="410.32" y="392.2" font-family="Liberation Sans, sans-serif" font-size="15.6" textLength="9.7" lengthAdjust="spacingAndGlyphs">5</text>
<text x="57.0" y="46" font-family="Liberation Sans, sans-serif" font-size="15.6" textLength="19.4" lengthAdjust="spacingAndGlyphs">10</text>
<text x="76.4" y="37.1" font-family="Liberation Sans, sans-serif" font-size="10.6" textLength="6.6" lengthAdjust="spacingAndGlyphs">9</text>
<text x="57.0" y="124" font-family="Liberation Sans, sans-serif" font-size="15.6" textLength="19.4" lengthAdjust="spacingAndGlyphs">10</text>
<text x="76.4" y="115.1" font-family="Liberation Sans, sans-serif" font-size="10.6" textLength="6.6" lengthAdjust="spacingAndGlyphs">8</text>
<text x="57.0" y="206.9" font-family="Liberation Sans, sans-serif" font-size="15.6" textLength="19.4" lengthAdjust="spacingAndGlyphs">10</text>
<text x="76.4" y="198" font-family="Liberation Sans, sans-serif" font-size="10.6" textLength="6.6" lengthAdjust="spacingAndGlyphs">7</text>
<text x="57.0" y="289.9" font-family="Liberation Sans, sans-serif" font-size="15.6" textLength="19.4" lengthAdjust="spacingAndGlyphs">10</text>
<text x="76.4" y="281" font-family="Liberation Sans, sans-serif" font-size="10.6" textLength="6.6" lengthAdjust="spacingAndGlyphs">6</text>
<text x="57.0" y="366" font-family="Liberation Sans, sans-serif" font-size="15.6" textLength="19.4" lengthAdjust="spacingAndGlyphs">10</text>
<text x="76.4" y="357.1" font-family="Liberation Sans, sans-serif" font-size="10.6" textLength="6.6" lengthAdjust="spacingAndGlyphs">5</text>
<text x="268.2" y="414.8" font-family="Liberation Sans, sans-serif" font-size="15.5" text-anchor="middle">z</text>
<g transform="translate(39.4 200) rotate(-90)" font-family="Liberation Sans, sans-serif" font-size="15.3">
<text x="-50.0" y="1.2" font-style="italic" font-size="17.5">ρ</text>
<text x="-41.0" y="7.2" font-size="13.5">*</text>
<text x="-29.6" y="0">[</text>
<text x="-24.3" y="0">M</text>
<circle cx="-6" cy="1.1" r="3.55" fill="none" stroke="#000" stroke-width="1"/><circle cx="-6" cy="1.1" r="1.05" fill="#000"/>
<path d="M-2.4 1.2L5.1 -10.9" stroke="#000" stroke-width="1.35" fill="none"/>
<text x="5.0" y="0">M</text>
<text x="19.0" y="0">p</text>
<text x="28.6" y="0">c</text>
<text x="36.2" y="-9.1" font-size="9.3">3</text>
<text x="43.1" y="0">]</text>
</g>
<rect x="114.65" y="264.9" width="51.35" height="9.0" fill="#5a0fb0" fill-opacity="0.36"/>
<path d="M114.65 269.4H166" stroke="#5a0fb0" stroke-width="2.6" stroke-dasharray="2.6 4.32"/>
<rect x="114.65" y="281.9" width="51.35" height="9.0" fill="#5a0fb0" fill-opacity="0.42"/>
<path d="M114.65 286.4H166" stroke="#5a0fb0" stroke-width="2.8"/>
<rect x="114.65" y="298.6" width="51.35" height="9.0" fill="#1fcb8f" fill-opacity="0.4"/>
<path d="M114.65 303.1H166" stroke="#1fcb8f" stroke-width="2.8"/>
<rect x="114.65" y="315.3" width="51.35" height="9.0" fill="#ff7f2a" fill-opacity="0.4"/>
<path d="M114.65 319.8H166" stroke="#ff7f2a" stroke-width="2.3" stroke-dasharray="10 4.9 2.6 4.9"/>
<path d="M140.3 333.9L143.55 340.25L137.05 340.25Z" fill="#fff" stroke="#333333" stroke-width="0.9"/>
<text x="175.4" y="273.9" font-family="Liberation Sans, sans-serif" font-size="13" textLength="29.5" lengthAdjust="spacingAndGlyphs">total</text>
<text x="175.4" y="291" font-family="Liberation Sans, sans-serif" font-size="13" textLength="50.7" lengthAdjust="spacingAndGlyphs">stacked</text>
<text x="175.4" y="307.5" font-family="Liberation Sans, sans-serif" font-size="13" textLength="82.5" lengthAdjust="spacingAndGlyphs">observed MS</text>
<text x="175.4" y="324.5" font-family="Liberation Sans, sans-serif" font-size="13" textLength="61.9" lengthAdjust="spacingAndGlyphs">individual</text>
<text x="176" y="341" font-family="Liberation Sans, sans-serif" font-size="13" textLength="56.7" lengthAdjust="spacingAndGlyphs">M&amp;D+14</text>
</g>
</svg>
</body></html>
